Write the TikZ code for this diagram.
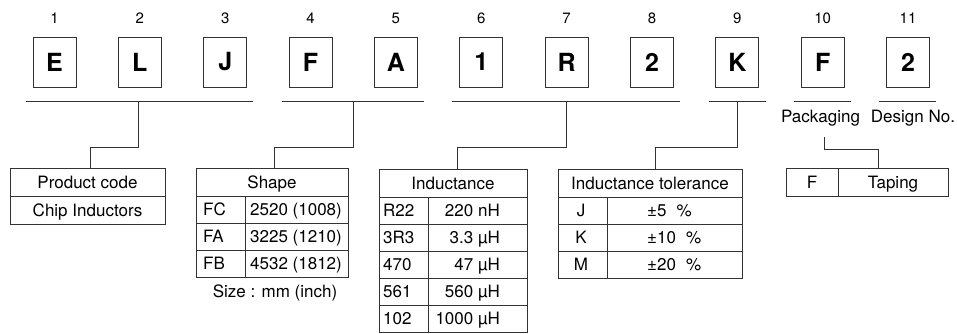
\documentclass[tikz,border=0pt]{standalone}
\usepackage{fontspec}
\setmainfont{TeX Gyre Heros}
\usepackage{tikz}
\usetikzlibrary{positioning}

\tikzset{
  wire/.style={draw=black!80, line width=0.9pt},
  letterbox/.style={draw=black!80, line width=0.9pt, minimum width=43pt, minimum height=50pt, inner sep=0pt, font=\fontsize{25}{30}\selectfont\bfseries},
  digit/.style={inner sep=0pt, anchor=base, font=\fontsize{15}{18}\selectfont},
  txt/.style={inner sep=0pt, anchor=base, font=\fontsize{17}{20}\selectfont},
}

\begin{document}
\begin{tikzpicture}[x=1pt, y=-1pt]
		\useasboundingbox (0,0) rectangle (957,333);
		%\draw[gray,step=10] (0,0) grid (957,333);
		% code letters and their positions
		\foreach \i/\c in {1/E,2/L,3/J,4/F,5/A,6/1,7/R,8/2,9/K,10/F,11/2} {
			\node[letterbox] (c\i) at ({54.5+85.35*(\i-1)},62) {\c};
			\node[digit] (n\i) at ({54.5+85.35*(\i-1)},23.5) {\i};
		}
		% underlines of the groups
		\draw[wire] (26,101) -- (253,101);
		\draw[wire] (282,101) -- (424,101);
		\draw[wire] (452,101) -- (680,101);
		\draw[wire] (709,101) -- (766,101);
		\draw[wire] (794,101) -- (851,101);
		\draw[wire] (879,101) -- (936,101);
		\coordinate (g1) at (138,101);
		\coordinate (g2) at (353,101);
		\coordinate (g3) at (566,101);
		\coordinate (g4) at (737,101);
		\node[txt] (pack) at (820.5,122) {Packaging};
		\node[txt] (design) at (913,122) {Design No.};
		\coordinate (g5) at (824,137);
		% feet of the connectors
		\coordinate (f1) at (90,168);
		\coordinate (f2) at (274,168);
		\coordinate (f3) at (457,169);
		\coordinate (f4) at (655,169);
		\coordinate (f5) at (878,168);
		\draw[wire] (g1) -- ++(0,46) -| (f1);
		\draw[wire] (g2) -- ++(0,46) -| (f2);
		\draw[wire] (g3) -- ++(0,46) -| (f3);
		\draw[wire] (g4) -- ++(0,46) -| (f4);
		\draw[wire] (g5) -- ++(0,12) -| (f5);
		% product code
		\draw[wire] (10,168) rectangle (165,224);
		\draw[wire] (10,196) -- (165,196);
		\node[txt] (prod) at (87.5,188) {Product code};
		\node[txt] (chip) at (87.5,216) {Chip Inductors};
		% shape
		\draw[wire] (196,168) rectangle (348,277);
		\foreach \y in {196,223,250} \draw[wire] (196,\y) -- (348,\y);
		\draw[wire] (245,196) -- (245,277);
		\node[txt] (shape) at (272,188) {Shape};
		\foreach \k/\v [count=\r] in {FC/2520 (1008),FA/3225 (1210),FB/4532 (1812)} {
			\node[txt, anchor=base west] (shk\r) at (203,{196+27*\r-7.5}) {\k};
			\node[txt] (shv\r) at (296,{196+27*\r-7.5}) {\v};
		}
		\node[txt] (size) at (275,297) {Size : mm (inch)};
		% inductance
		\draw[wire] (379,169) rectangle (527,332);
		\foreach \y in {197,224,251,278,305} \draw[wire] (379,\y) -- (527,\y);
		\draw[wire] (428,197) -- (428,332);
		\node[txt] (ind) at (453,189) {Inductance};
		\foreach \k/\v [count=\r] in {R22/220 nH,3R3/3.3 µH,470/47 µH,561/560 µH,102/1000 µH} {
			\node[txt, anchor=base west] (indk\r) at (383,{197+27*\r-7.5}) {\k};
			\node[txt, anchor=base east] (indv\r) at (500,{197+27*\r-7.5}) {\v};
		}
		% tolerance
		\draw[wire] (558,169) rectangle (742,278);
		\foreach \y in {197,224,251} \draw[wire] (558,\y) -- (742,\y);
		\draw[wire] (607,197) -- (607,278);
		\node[txt] (tol) at (650,189) {Inductance tolerance};
		\foreach \k/\v [count=\r] in {J/5,K/10,M/20} {
			\node[txt] (tolk\r) at (581,{197+27*\r-7.5}) {\k};
			\node[txt, anchor=base west] (tolv\r) at (647,{197+27*\r-7.5}) {±\v\hspace{10pt}\%};
		}
		% packaging
		\draw[wire] (786,168) rectangle (948,196);
		\draw[wire] (838,168) -- (838,196);
		\node[txt] (tapk) at (812,188) {F};
		\node[txt] (tapv) at (893,188) {Taping};
	\end{tikzpicture}
\end{document}
